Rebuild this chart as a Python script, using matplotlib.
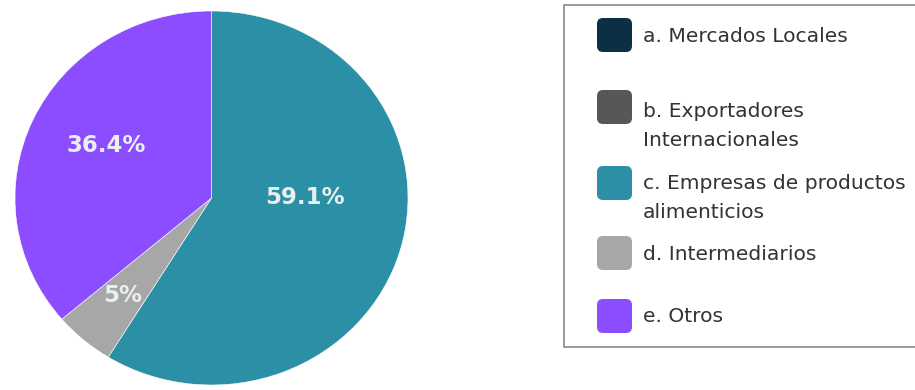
import matplotlib

matplotlib.use("Agg")
import matplotlib.pyplot as plt
import numpy as np
from matplotlib.patches import FancyBboxPatch, Rectangle

# Distribution of sales channels (percent)
categories = [
    "a. Mercados Locales",
    "b. Exportadores\nInternacionales",
    "c. Empresas de productos\nalimenticios",
    "d. Intermediarios",
    "e. Otros",
]
shares = [0.0, 0.0, 59.1, 5.0, 36.4]
pct_labels = ["0%", "0%", "59.1%", "5%", "36.4%"]
colors = ["#0c2f45", "#555759", "#2b90a6", "#a7a7a7", "#8c4cff"]

W, H = 915, 390
fig = plt.figure(figsize=(W / 100, H / 100), dpi=100)

# pie axes, slightly squashed vertically like the original export
left, right, top, bottom = 15, 408, 11, 385
ax = fig.add_axes([left / W, (H - bottom) / H, (right - left) / W, (bottom - top) / H])
wedges, _ = ax.pie(
    shares,
    colors=colors,
    startangle=90,
    counterclock=False,
    wedgeprops=dict(edgecolor="white", linewidth=0.4),
)
ax.set_aspect("auto")
ax.set_xlim(-1, 1)
ax.set_ylim(-1, 1)
ax.axis("off")

# label radius per wedge; the big wedge gets a fixed spot
label_r = {3: 0.69, 4: 0.67}
for i, (w, txt) in enumerate(zip(wedges, pct_labels)):
    if shares[i] == 0:
        continue
    if i == 2:
        x, y = 0.476, 0.0
    else:
        ang = np.deg2rad((w.theta1 + w.theta2) / 2)
        x, y = label_r[i] * np.cos(ang) + (0.07 if i == 4 else 0), label_r[i] * np.sin(ang)
    ax.text(x, y, txt, ha="center", va="center", fontsize=16.5, fontweight="bold",
            color="#e8efee", family="DejaVu Sans")

# legend drawn in pixel units
lg = fig.add_axes([0, 0, 1, 1])
lg.set_xlim(0, W)
lg.set_ylim(H, 0)
lg.axis("off")
lg.add_patch(Rectangle((564, 5), 360, 342, facecolor="white", edgecolor="#8a8a8a", linewidth=1.2))

swatch_y = [35, 107, 183, 253, 316]
text_y = [36, 126, 198, 254, 317]
for c, label, sy, ty in zip(colors, categories, swatch_y, text_y):
    lg.add_patch(FancyBboxPatch((597, sy - 17), 35, 34,
                                boxstyle="round,pad=0,rounding_size=6",
                                facecolor=c, edgecolor="none"))
    lg.text(643, ty, label, ha="left", va="center", fontsize=14.6, color="#333333",
            family="DejaVu Sans", linespacing=1.62)

fig.savefig("out.png", dpi=100)
